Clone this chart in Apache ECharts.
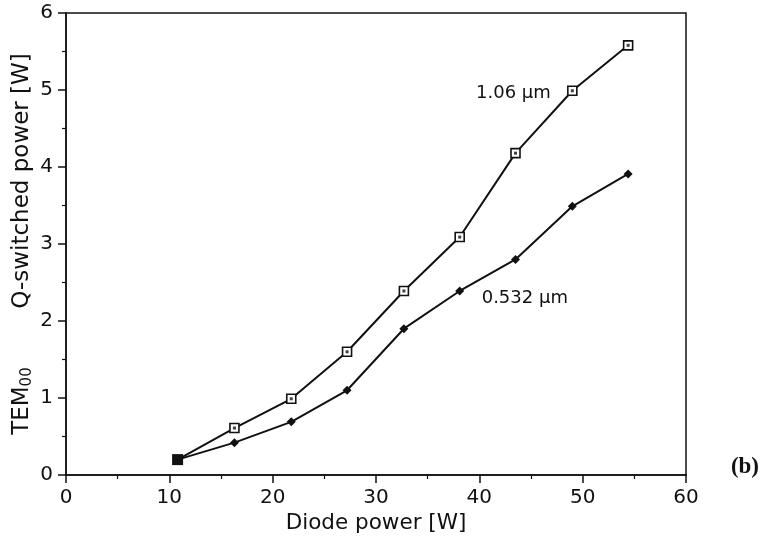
<!DOCTYPE html>
<html>
<head>
<meta charset="utf-8">
<script src="https://cdn.jsdelivr.net/npm/echarts@6/dist/echarts.min.js"></script>
<style>
  html, body { margin: 0; padding: 0; background: #fff; }
  #chart { width: 764px; height: 544px; }
</style>
</head>
<body>
<div id="chart"></div>
<script>
// Diode pump power [W] at each measured point
const diodePower = [10.8, 16.3, 21.8, 27.2, 32.7, 38.1, 43.5, 49.0, 54.4];
// TEM00 Q-switched output [W]
const power106 = [0.2, 0.61, 0.99, 1.6, 2.39, 3.09, 4.18, 4.99, 5.58];
const power532 = [0.2, 0.42, 0.69, 1.1, 1.9, 2.39, 2.8, 3.49, 3.91];

const xTicks = [0, 10, 20, 30, 40, 50, 60];
const yTicks = [0, 1, 2, 3, 4, 5, 6];

const ink = "#111";
const font = "DejaVu Sans";

function pairs(xs, ys) {
  return xs.map((x, i) => [x, ys[i]]);
}

const data106 = pairs(diodePower, power106).map((p, i) =>
  i === 0 ? { value: p, symbol: "none" } : p
);
const data532 = pairs(diodePower, power532).map((p, i) =>
  i === 0 ? { value: p, symbol: "rect", symbolSize: 11 } : p
);

const chart = echarts.init(document.getElementById("chart"));

chart.setOption({
  animation: false,
  grid: {
    left: 66, right: 78, top: 13, bottom: 69,
    outerBoundsMode: "none",
    show: true, borderColor: ink, borderWidth: 1.5,
  },
  xAxis: {
    type: "value",
    min: xTicks[0],
    max: xTicks[xTicks.length - 1],
    interval: 10,
    name: "Diode power [W]",
    nameLocation: "middle",
    nameGap: 36,
    nameTextStyle: { color: ink, fontFamily: font, fontSize: 21.5 },
    axisLine: { lineStyle: { color: ink, width: 1.5 } },
    axisTick: { length: 8, lineStyle: { color: ink, width: 1.5 } },
    minorTick: { show: true, splitNumber: 2, length: 4, lineStyle: { color: ink, width: 1.2 } },
    axisLabel: { color: ink, fontFamily: font, fontSize: 20, margin: 13 },
    splitLine: { show: false },
  },
  yAxis: {
    type: "value",
    min: yTicks[0],
    max: yTicks[yTicks.length - 1],
    interval: 1,
    name: "{a|TEM}{s|00}{a|        Q-switched power [W]}",
    nameLocation: "middle",
    nameGap: 31,
    nameMoveOverlap: false,
    nameTextStyle: {
      color: ink,
      rich: {
        a: { fontFamily: font, fontSize: 23, color: ink, lineHeight: 26 },
        s: { fontFamily: font, fontSize: 15, color: ink, verticalAlign: "bottom", lineHeight: 26, padding: [8, 0, 0, 0] },
      },
    },
    axisLine: { lineStyle: { color: ink, width: 1.5 } },
    axisTick: { length: 8, lineStyle: { color: ink, width: 1.5 } },
    minorTick: { show: true, splitNumber: 2, length: 4, lineStyle: { color: ink, width: 1.2 } },
    axisLabel: { color: ink, fontFamily: font, fontSize: 20, margin: 13 },
    splitLine: { show: false },
  },
  series: [
    {
      name: "1.06 µm",
      type: "line",
      data: data106,
      symbol: "rect",
      symbolSize: 9,
      lineStyle: { color: ink, width: 2 },
      itemStyle: { color: "#fff", borderColor: ink, borderWidth: 1.6 },
      markPoint: {
        symbol: "circle",
        symbolSize: 0,
        label: { show: true, position: "inside", color: ink, fontFamily: font, fontSize: 18, formatter: "1.06 µm" },
        data: [{ coord: [43.3, 4.96] }],
      },
    },
    {
      name: "0.532 µm",
      type: "line",
      data: data532,
      symbol: "diamond",
      symbolSize: 9,
      lineStyle: { color: ink, width: 2 },
      itemStyle: { color: ink },
      markPoint: {
        symbol: "circle",
        symbolSize: 0,
        label: { show: true, position: "inside", color: ink, fontFamily: font, fontSize: 18, formatter: "0.532 µm" },
        data: [{ coord: [44.4, 2.3] }],
      },
    },
    {
      // centre dots of the open squares
      type: "scatter",
      data: pairs(diodePower, power106).slice(1),
      symbol: "rect",
      symbolSize: 3,
      z: 5,
      itemStyle: { color: ink },
      silent: true,
    },
  ],
  graphic: [
    {
      type: "text",
      right: 5,
      top: 456,
      style: { text: "(b)", fill: ink, font: "bold 23px 'Liberation Serif'" },
    },
  ],
});
</script>
</body>
</html>
